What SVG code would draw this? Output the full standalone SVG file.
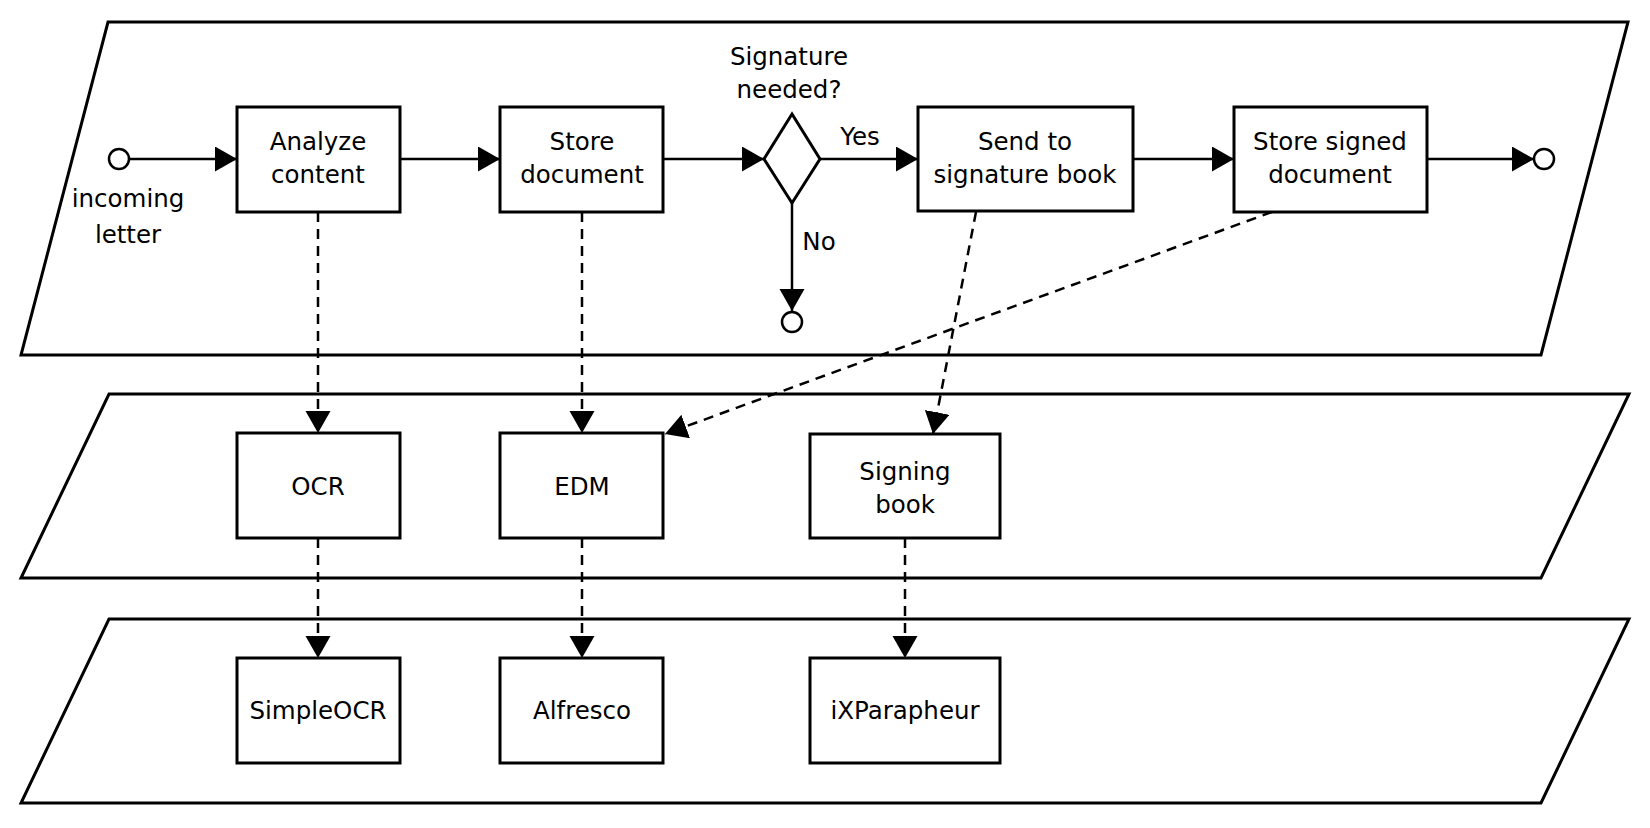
<svg xmlns="http://www.w3.org/2000/svg" width="1650" height="828" viewBox="0 0 1650 828">
<style>
.layer{fill:#fff;stroke:#000;stroke-width:3;stroke-linejoin:miter}
.box{fill:#fff;stroke:#000;stroke-width:3}
.gw{fill:#fff;stroke:#000;stroke-width:3}
.ev{fill:#fff;stroke:#000;stroke-width:2.5}
.flow{fill:none;stroke:#000;stroke-width:2.5;marker-end:url(#ah)}
.dash{fill:none;stroke:#000;stroke-width:2.5;stroke-dasharray:10 7;marker-end:url(#ah)}
text{font-family:"DejaVu Sans","Liberation Sans",sans-serif;font-size:24.5px;fill:#000;text-anchor:middle}
</style>
<defs>
<marker id="ah" markerUnits="userSpaceOnUse" markerWidth="23" markerHeight="26" refX="22" refY="12.5" orient="auto">
<path d="M0,0 L22,12.5 L0,25 Z" fill="#000"/>
</marker>
</defs>
<g id="layers">
<polygon id="layer-process" class="layer" points="108,22 1628,22 1541,355 21,355"/>
<polygon id="layer-function" class="layer" points="109,394 1629,394 1541,578 21,578"/>
<polygon id="layer-app" class="layer" points="109,619 1629,619 1541,803 21,803"/>
</g>
<g id="connectors">
<line class="flow" x1="129" y1="159" x2="237" y2="159"/>
<line class="flow" x1="400" y1="159" x2="500" y2="159"/>
<line class="flow" x1="663" y1="159" x2="764" y2="159"/>
<line class="flow" x1="819" y1="159" x2="918" y2="159"/>
<line class="flow" x1="792" y1="203" x2="792" y2="311"/>
<line class="flow" x1="1133" y1="159" x2="1234" y2="159"/>
<line class="flow" x1="1427" y1="159" x2="1534" y2="159"/>
<line class="dash" x1="318" y1="212" x2="318" y2="433"/>
<line class="dash" x1="582" y1="212" x2="582" y2="433"/>
<line class="dash" x1="976" y1="212" x2="933" y2="434"/>
<line class="dash" x1="1272" y1="212" x2="665" y2="434"/>
<line class="dash" x1="318" y1="538" x2="318" y2="658"/>
<line class="dash" x1="582" y1="538" x2="582" y2="658"/>
<line class="dash" x1="905" y1="538" x2="905" y2="658"/>
<text x="860" y="145">Yes</text>
<text x="819" y="250">No</text>
</g>
<g id="start">
<circle class="ev" cx="119" cy="159" r="10"/>
<text x="128" y="207">incoming</text>
<text x="128" y="243">letter</text>
</g>
<g id="analyze">
<rect class="box" x="237" y="107" width="163" height="105"/>
<text x="318" y="150">Analyze</text>
<text x="318" y="183">content</text>
</g>
<g id="store">
<rect class="box" x="500" y="107" width="163" height="105"/>
<text x="582" y="150">Store</text>
<text x="582" y="183">document</text>
</g>
<g id="gateway">
<polygon class="gw" points="792,114 820,159 792,203 764,159"/>
<text x="789" y="65">Signature</text>
<text x="789" y="98">needed?</text>
</g>
<g id="end-no">
<circle class="ev" cx="792" cy="322" r="10"/>
</g>
<g id="send">
<rect class="box" x="918" y="107" width="215" height="104"/>
<text x="1025" y="150">Send to</text>
<text x="1025" y="183">signature book</text>
</g>
<g id="store-signed">
<rect class="box" x="1234" y="107" width="193" height="105"/>
<text x="1330" y="150">Store signed</text>
<text x="1330" y="183">document</text>
</g>
<g id="end">
<circle class="ev" cx="1544" cy="159" r="10"/>
</g>
<g id="ocr">
<rect class="box" x="237" y="433" width="163" height="105"/>
<text x="318" y="495">OCR</text>
</g>
<g id="edm">
<rect class="box" x="500" y="433" width="163" height="105"/>
<text x="582" y="495">EDM</text>
</g>
<g id="signing">
<rect class="box" x="810" y="434" width="190" height="104"/>
<text x="905" y="480">Signing</text>
<text x="905" y="513">book</text>
</g>
<g id="simpleocr">
<rect class="box" x="237" y="658" width="163" height="105"/>
<text x="318" y="719">SimpleOCR</text>
</g>
<g id="alfresco">
<rect class="box" x="500" y="658" width="163" height="105"/>
<text x="582" y="719">Alfresco</text>
</g>
<g id="ixparapheur">
<rect class="box" x="810" y="658" width="190" height="105"/>
<text x="905" y="719">iXParapheur</text>
</g>
</svg>
